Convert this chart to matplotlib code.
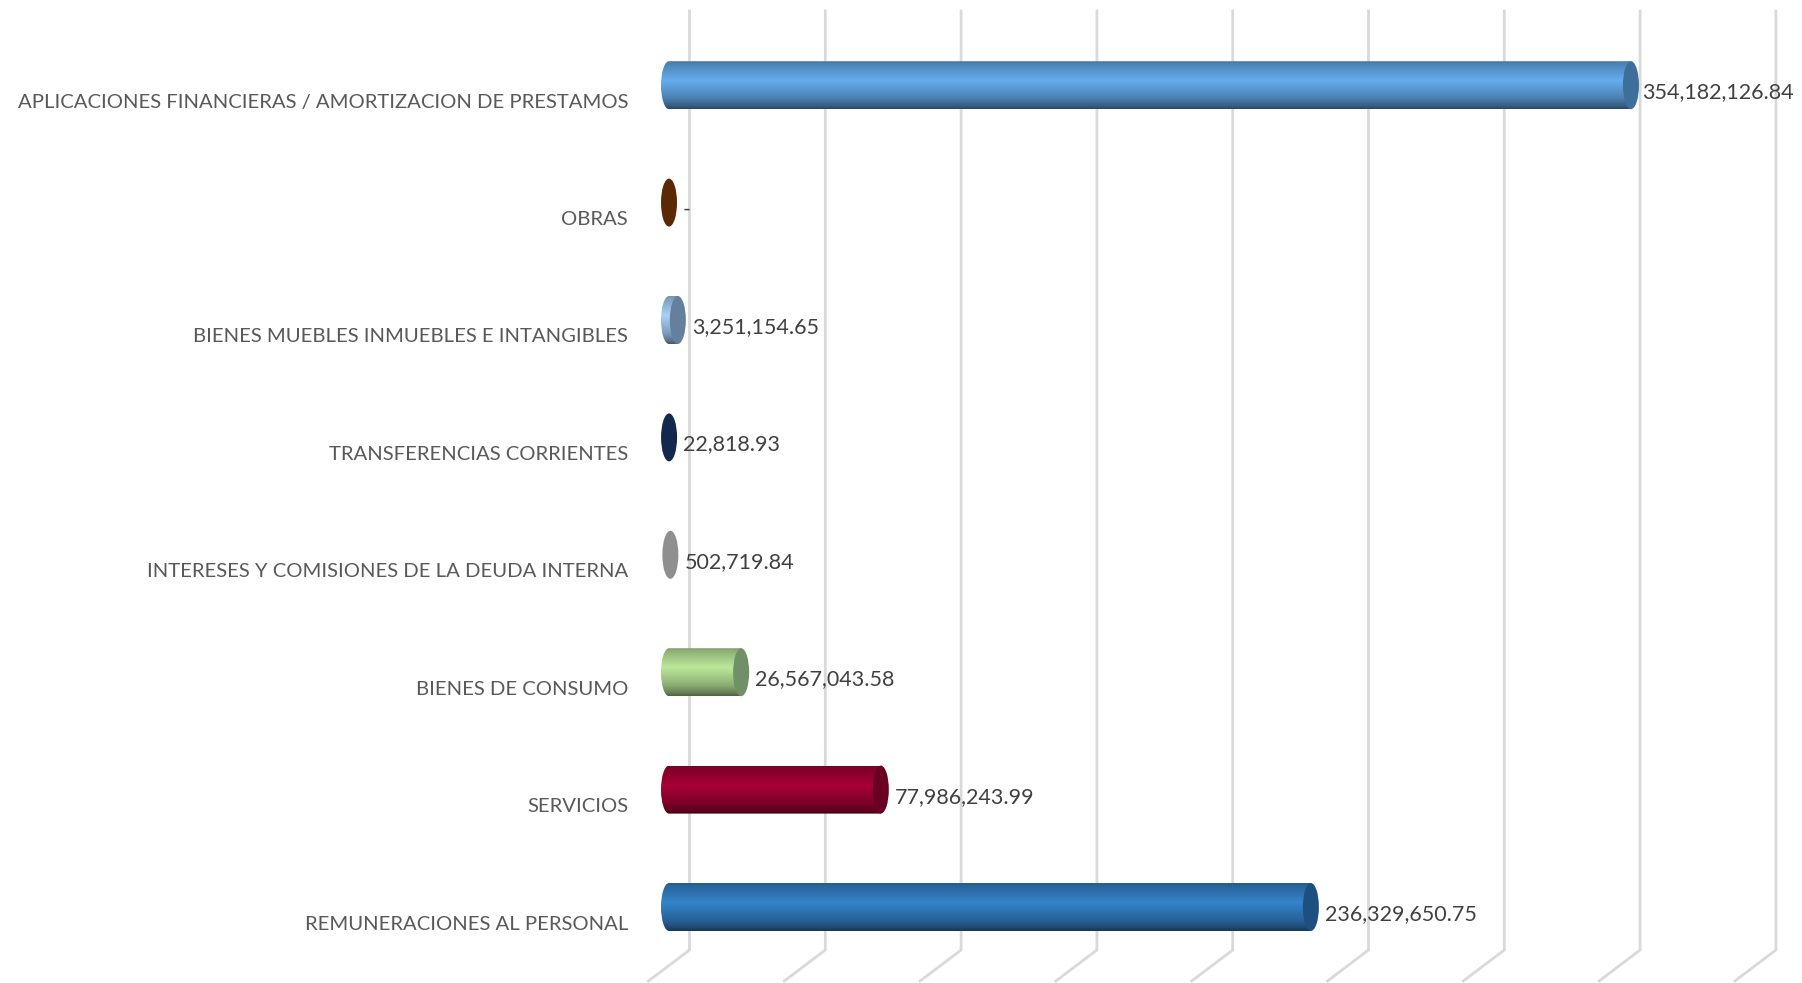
import matplotlib
matplotlib.use("Agg")
import matplotlib.pyplot as plt
import numpy as np
from matplotlib.colors import to_rgb
from matplotlib.patches import Ellipse, PathPatch
from matplotlib.path import Path

# bottom to top, same order as the chart's category axis
categories = [
    "REMUNERACIONES AL PERSONAL",
    "SERVICIOS",
    "BIENES DE CONSUMO",
    "INTERESES Y COMISIONES DE LA DEUDA INTERNA",
    "TRANSFERENCIAS CORRIENTES",
    "BIENES MUEBLES INMUEBLES E INTANGIBLES",
    "OBRAS",
    "APLICACIONES FINANCIERAS / AMORTIZACION DE PRESTAMOS",
]
values = [236329650.75, 77986243.99, 26567043.58, 502719.84, 22818.93, 3251154.65, 0.0, 354182126.84]
value_labels = ["236,329,650.75", "77,986,243.99", "26,567,043.58", "502,719.84",
                "22,818.93", "3,251,154.65", "-", "354,182,126.84"]
body_colors = ["#3584CC", "#A80036", "#BCE89B", "#929292", "#14274C", "#A9D1FA", "#5B2A04", "#65ADEF"]
cap_colors = ["#1D4F80", "#6A0022", "#6F9068", "#8F8F8F", "#14274C", "#64809E", "#5B2A04", "#3E6F9A"]
grid_ticks = [0, 50e6, 100e6, 150e6, 200e6, 250e6, 300e6, 350e6, 400e6]

W, H = 1802, 983
PX_PER_VALUE = 135.8 / 50e6
X0_PX = 669      # pixel column of value 0 on the front of the bars
Y0_PX = 907      # pixel row of the first category
ROW_PX = 117.4
BAR_H = 48 / ROW_PX
CAP_W = 16 / PX_PER_VALUE
DEPTH_DX = 20.5 / PX_PER_VALUE
FLOOR_DX = 41 / PX_PER_VALUE
FLOOR_DY = 31 / ROW_PX
GRID_TOP = (Y0_PX - 11) / ROW_PX
GRID_BOTTOM = (Y0_PX - 950) / ROW_PX

plt.rcParams["font.family"] = ["Lato", "DejaVu Sans"]

fig = plt.figure(figsize=(W / 100, H / 100), dpi=100)
ax = fig.add_axes([0, 0, 1, 1])
ax.set_xlim(-X0_PX / PX_PER_VALUE, (W - X0_PX) / PX_PER_VALUE)
ax.set_ylim((Y0_PX - H) / ROW_PX, Y0_PX / ROW_PX)
ax.axis("off")

# back wall gridlines, with the little slanted foot on the floor
for t in grid_ticks:
    gx = t + DEPTH_DX
    ax.plot([gx, gx, gx - FLOOR_DX], [GRID_TOP, GRID_BOTTOM, GRID_BOTTOM - FLOOR_DY],
            color="#D9D9D9", lw=2.0, zorder=1, solid_joinstyle="miter")


def shade(color):
    # vertical shading of the cylinder: dull top, highlight, dark lower edge
    base = np.array(to_rgb(color))
    stops = [0.0, 0.06, 0.40, 0.78, 0.94, 1.0]
    gains = [0.70, 0.76, 1.0, 0.74, 0.54, 0.42]
    pos = np.linspace(0, 1, 96)
    return np.stack([np.interp(pos, stops, np.array(gains) * c) for c in base], axis=1)[:, None, :]


for i, (val, body, cap) in enumerate(zip(values, body_colors, cap_colors)):
    half = BAR_H / 2
    if val > 1e6:
        # rect plus rounded left end, then gradient clipped to it
        k = 0.5523
        rx = CAP_W / 2
        verts = [(val, i + half), (0, i + half),
                 (-k * rx, i + half), (-rx, i + k * half), (-rx, i),
                 (-rx, i - k * half), (-k * rx, i - half), (0, i - half),
                 (val, i - half), (val, i + half)]
        codes = [Path.MOVETO, Path.LINETO, Path.CURVE4, Path.CURVE4, Path.CURVE4,
                 Path.CURVE4, Path.CURVE4, Path.CURVE4, Path.LINETO, Path.CLOSEPOLY]
        patch = PathPatch(Path(verts, codes), fc="none", ec="none", zorder=3)
        ax.add_patch(patch)
        im = ax.imshow(shade(body), extent=[-rx, val, i - half, i + half], origin="upper",
                       aspect="auto", zorder=3, interpolation="bilinear")
        im.set_clip_path(patch)
    ax.add_patch(Ellipse((val, i), CAP_W, BAR_H, fc=cap, ec="none", zorder=4))

    shift = 11 if i == 7 else 14
    ax.text(val + shift / PX_PER_VALUE, i - 7 / ROW_PX, value_labels[i], color="#404040",
            fontsize=15.5, ha="left", va="center", zorder=5)
    ax.text((628 - X0_PX) / PX_PER_VALUE, i - 17 / ROW_PX, categories[i], color="#595959",
            fontsize=14.6, ha="right", va="center", zorder=5)

# imshow resets the limits
ax.set_xlim(-X0_PX / PX_PER_VALUE, (W - X0_PX) / PX_PER_VALUE)
ax.set_ylim((Y0_PX - H) / ROW_PX, Y0_PX / ROW_PX)

fig.savefig("out.png", dpi=100, facecolor="white")
plt.close(fig)
